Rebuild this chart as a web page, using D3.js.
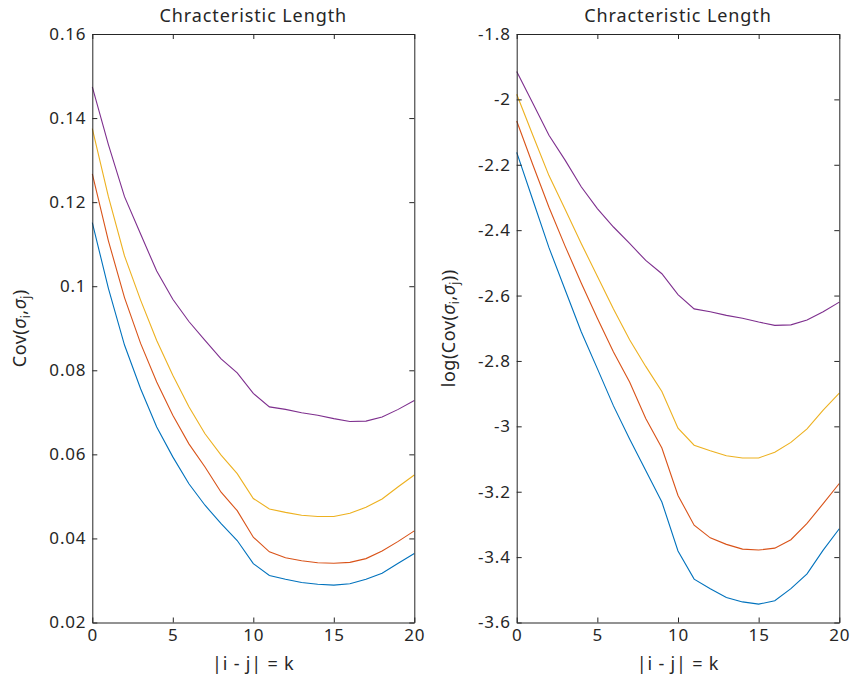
<!DOCTYPE html>
<html lang="en">
<head>
    <meta charset="UTF-8">
    <title>Chracteristic Length</title>
    <script src="https://d3js.org/d3.v7.min.js"></script>
    <style>
        body { margin: 0; background: #fff; }
        text { font-family: "Noto Sans", sans-serif; fill: #262626; }
    </style>
</head>
<body>
    <script>
        // lag k = |i - j|
        const lags = d3.range(0, 21);

        // covariance curves (4 series)
        const covBlue   = [0.1151, 0.0995, 0.0860, 0.0756, 0.0665, 0.0594, 0.0530, 0.0479, 0.0435, 0.0395, 0.0340,
                           0.0312, 0.0303, 0.0295, 0.0291, 0.0289, 0.0292, 0.0303, 0.0317, 0.0341, 0.0364];
        const covOrange = [0.1267, 0.1108, 0.0973, 0.0864, 0.0772, 0.0693, 0.0625, 0.0570, 0.0510, 0.0466, 0.0403,
                           0.0368, 0.0354, 0.0347, 0.0342, 0.0341, 0.0343, 0.0352, 0.0370, 0.0393, 0.0418];
        const covYellow = [0.1375, 0.1213, 0.1072, 0.0967, 0.0871, 0.0788, 0.0713, 0.0649, 0.0598, 0.0554, 0.0495,
                           0.0470, 0.0462, 0.0455, 0.0452, 0.0452, 0.0460, 0.0474, 0.0494, 0.0523, 0.0551];
        const covPurple = [0.1474, 0.1337, 0.1213, 0.1124, 0.1036, 0.0969, 0.0916, 0.0871, 0.0827, 0.0794, 0.0745,
                           0.0713, 0.0707, 0.0699, 0.0693, 0.0685, 0.0678, 0.0679, 0.0689, 0.0707, 0.0728];

        const xTicks = [0, 5, 10, 15, 20];
        const covTicks = [0.02, 0.04, 0.06, 0.08, 0.1, 0.12, 0.14, 0.16];
        const logTicks = [-3.6, -3.4, -3.2, -3, -2.8, -2.6, -2.4, -2.2, -2, -1.8];

        const series = [covBlue, covOrange, covYellow, covPurple];
        const colors = ["#0072BD", "#D95319", "#EDB120", "#7E2F8E"];

        const width = 852, height = 682;
        const svg = d3.select("body").append("svg")
            .attr("width", width)
            .attr("height", height);

        const plotTop = 34, plotBottom = 622.5;

        function drawPanel(x0, x1, yDomain, yTickVals, valueFn, yLabel) {
            const x = d3.scaleLinear().domain([0, 20]).range([x0, x1]);
            const y = d3.scaleLinear().domain(yDomain).range([plotBottom, plotTop]);
            const fmt = d => String(+d.toFixed(2));

            const g = svg.append("g");

            // curves
            series.forEach((s, i) => {
                const line = d3.line()
                    .x((d, k) => x(lags[k]))
                    .y(d => y(valueFn(d)));
                g.append("path")
                    .datum(s)
                    .attr("d", line)
                    .attr("fill", "none")
                    .attr("stroke", colors[i])
                    .attr("stroke-width", 1.1);
            });

            // axes, ticks pointing inward like matlab
            const axes = [
                [d3.axisBottom(x).tickValues(xTicks).tickFormat(fmt).tickPadding(6), `translate(0,${plotBottom})`],
                [d3.axisTop(x).tickValues(xTicks).tickFormat(""), `translate(0,${plotTop})`],
                [d3.axisLeft(y).tickValues(yTickVals).tickFormat(fmt).tickPadding(6), `translate(${x0},0)`],
                [d3.axisRight(y).tickValues(yTickVals).tickFormat(""), `translate(${x1},0)`]
            ];
            axes.forEach(([ax, tr]) => {
                const a = g.append("g")
                    .attr("transform", tr)
                    .call(ax.tickSizeInner(-5).tickSizeOuter(0));
                a.select(".domain").attr("stroke", "#262626");
                a.selectAll(".tick line").attr("stroke", "#262626");
                a.selectAll(".tick text")
                    .style("font-size", "17px")
                    .style("letter-spacing", "0.8px")
                    .attr("fill", "#333");
            });

            // title
            g.append("text")
                .attr("x", (x0 + x1) / 2)
                .attr("y", 22)
                .attr("text-anchor", "middle")
                .style("font-size", "18px")
                .style("letter-spacing", "0.9px")
                .text("Chracteristic Length");

            // x label
            g.append("text")
                .attr("x", (x0 + x1) / 2)
                .attr("y", 670)
                .attr("text-anchor", "middle")
                .style("font-size", "18px")
                .style("letter-spacing", "0.8px")
                .text("|i - j| = k");

            // y label with subscripts
            const yl = g.append("text")
                .attr("transform", `translate(${yLabel.x},${(plotTop + plotBottom) / 2}) rotate(-90)`)
                .attr("text-anchor", "middle")
                .style("font-size", "18px")
                .style("letter-spacing", "0.5px");
            yLabel.parts.forEach(p => {
                const t = yl.append("tspan").text(p.t);
                if (p.it) t.style("font-style", "italic");
                if (p.sub) t.style("font-size", "12px").attr("dy", 4);
                if (p.up) t.attr("dy", -4);
            });
        }

        const covLabel = [
            { t: "Cov(" }, { t: "σ", it: true }, { t: "i", sub: true },
            { t: ",", up: true }, { t: "σ", it: true }, { t: "j", sub: true }, { t: ")", up: true }
        ];
        const logLabel = [{ t: "log(" }].concat(covLabel).concat([{ t: ")" }]);

        drawPanel(92.3, 414.3, [0.02, 0.16], covTicks, d => d, { x: 26, parts: covLabel });
        drawPanel(516.7, 839.3, [-3.6, -1.8], logTicks, d => Math.log(d), { x: 455, parts: logLabel });
    </script>
</body>
</html>
